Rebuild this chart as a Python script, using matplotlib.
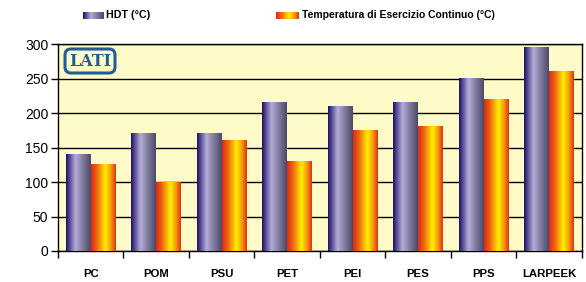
import numpy as np
import matplotlib
matplotlib.use("Agg")
import matplotlib.pyplot as plt
from matplotlib.colors import LinearSegmentedColormap
from matplotlib.patches import FancyBboxPatch
from matplotlib.transforms import IdentityTransform

categories = ["PC", "POM", "PSU", "PET", "PEI", "PES", "PPS", "LARPEEK"]
hdt = [140, 170, 170, 215, 210, 215, 250, 295]
cont = [125, 100, 160, 130, 175, 180, 220, 260]
series_names = ["HDT (°C)", "Temperatura di Esercizio Continuo (°C)"]
yticks = [0, 50, 100, 150, 200, 250, 300]

plt.rcParams['font.family'] = ['Liberation Sans', 'DejaVu Sans']

cm_hdt = LinearSegmentedColormap.from_list("hdt", [
    (0.0, "#1c0f5e"), (0.12, "#4a3f8a"), (0.38, "#b4acd8"),
    (0.7, "#7c7898"), (1.0, "#4a4868")])
cm_cont = LinearSegmentedColormap.from_list("cont", [
    (0.0, "#dc2814"), (0.25, "#ee6a10"), (0.58, "#fff000"),
    (0.8, "#f49a10"), (1.0, "#de3014")])

W, H = 586, 282
fig = plt.figure(figsize=(W/100, H/100), dpi=100)
ax = fig.add_axes([58/W, 1 - 251/H, (581.7 - 58)/W, (251 - 44.3)/H])
ax.set_facecolor("#fffbc8")

x = np.arange(len(categories))
w = 0.38
b1 = ax.bar(x - w/2, hdt, width=w, color="none", zorder=3)
b2 = ax.bar(x + w/2, cont, width=w, color="none", zorder=3)
grad = np.linspace(0, 1, 256).reshape(1, -1)
for bars, cmap in ((b1, cm_hdt), (b2, cm_cont)):
    for p in bars:
        x0, y0 = p.get_x(), p.get_y()
        ax.imshow(grad, cmap=cmap, aspect="auto", interpolation="bilinear",
                  extent=[x0, x0 + p.get_width(), y0, y0 + p.get_height()],
                  zorder=3)

ax.set_xlim(-0.5, len(categories) - 0.5)
ax.set_ylim(0, 300)
ax.set_yticks(yticks)
ax.set_yticklabels([str(v) for v in yticks], fontsize=10)
ax.yaxis.grid(True, color="black", linewidth=1.0, zorder=1)
ax.set_axisbelow(True)
ax.tick_params(axis="y", length=5, width=1, pad=2)

ax.set_xticks(np.arange(len(categories) + 1) - 0.5)
ax.set_xticklabels([])
ax.set_xticks(x, minor=True)
ax.set_xticklabels(categories, minor=True, fontsize=8.2, fontweight="bold")
ax.tick_params(axis="x", which="major", length=5, width=1)
ax.tick_params(axis="x", which="minor", length=0, pad=13)
for s in ax.spines.values():
    s.set_color("black")
    s.set_linewidth(1.0)

# logo (pixel coordinates, origin bottom-left)
logo = FancyBboxPatch((65, H - 73), 50, 24,
                      boxstyle="round,pad=0,rounding_size=6",
                      transform=IdentityTransform(), facecolor="#fffbc8",
                      edgecolor="#1f5c9c", linewidth=2.2, zorder=5)
fig.patches.append(logo)
fig.text(90/W, 1 - 61/H, "LATI", color="#1f5c9c", fontsize=11.5,
         fontweight="bold", family="DejaVu Serif", ha="center", va="center",
         zorder=6)

# legend
def swatch(x0, x1, cmap):
    sax = fig.add_axes([x0/W, 1 - 19/H, (x1 - x0)/W, 7/H])
    sax.imshow(grad, cmap=cmap, aspect="auto", interpolation="bilinear")
    sax.axis("off")

swatch(83, 104, cm_hdt)
fig.text(106/W, 1 - 15.5/H, series_names[0], fontsize=7.7, fontweight="bold",
         va="center", ha="left")
swatch(276, 298.5, cm_cont)
fig.text(302/W, 1 - 15.5/H, series_names[1], fontsize=7.5, fontweight="bold",
         va="center", ha="left")

fig.savefig("out.png", dpi=100)
